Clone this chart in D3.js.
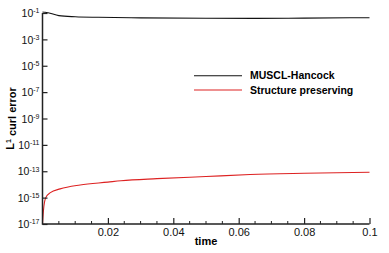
<!DOCTYPE html>
<html>
<head>
<meta charset="utf-8">
<script src="https://cdn.jsdelivr.net/npm/d3@7"></script>
<style>
  body { margin: 0; background: #fff; }
  svg { display: block; font-family: "Liberation Sans", Arial, sans-serif; }
</style>
</head>
<body>
<div class="curl-chart"></div>
<script>
// values
const timeMuscl = [0, 0.0008, 0.0017, 0.005, 0.01, 0.017, 0.03, 0.05, 0.065, 0.08, 0.1];
const errMuscl = [0.12, 0.115, 0.105, 0.063, 0.052, 0.047, 0.043, 0.04, 0.039, 0.041, 0.044];

const timeStruct = [0, 0.0003, 0.001, 0.0024, 0.0054, 0.0115, 0.02, 0.024, 0.035, 0.05, 0.0635, 0.08, 0.1];
const errStruct = [1e-17, 1.1e-16, 1e-15, 2.4e-15, 4.6e-15, 9.1e-15, 1.5e-14, 1.9e-14, 2.75e-14, 4e-14, 5.6e-14, 7e-14, 8.5e-14];

const xTicks = [0.02, 0.04, 0.06, 0.08, 0.1];
const xMinor = d3.range(0.005, 0.1, 0.005);
const yExps = [-1, -3, -5, -7, -9, -11, -13, -15, -17];

const seriesNames = ["MUSCL-Hancock", "Structure preserving"];
const seriesColors = ["#111111", "#dd2222"];

const W = 389, H = 253;
const margin = { top: 13, right: 19.5, bottom: 29, left: 42.5 };

const svg = d3
  .select(".curl-chart")
  .append("svg")
  .attr("width", W)
  .attr("height", H);

const x = d3.scaleLinear().domain([0, 0.1]).range([margin.left, W - margin.right]);
const y = d3.scaleLog().domain([1e-17, 1e-1]).range([H - margin.bottom, margin.top]);

// lines
const line = d3
  .line()
  .x((d) => x(d[0]))
  .y((d) => y(d[1]))
  .curve(d3.curveMonotoneX);

svg
  .append("path")
  .datum(d3.zip(timeMuscl, errMuscl))
  .attr("fill", "none")
  .attr("stroke", seriesColors[0])
  .attr("stroke-width", 1.1)
  .attr("d", line);

svg
  .append("path")
  .datum(d3.zip(timeStruct, errStruct))
  .attr("fill", "none")
  .attr("stroke", seriesColors[1])
  .attr("stroke-width", 1.1)
  .attr("d", line);

// x axis, ticks pointing inward
const xAxis = d3.axisBottom(x).tickValues(xTicks).tickSize(-6).tickPadding(4).tickFormat(d3.format("~g"));
const xGroup = svg
  .append("g")
  .attr("transform", `translate(0, ${H - margin.bottom})`)
  .call(xAxis);
xGroup.select(".domain").remove();
xGroup.selectAll(".tick line").attr("stroke", "#222").attr("stroke-width", 1.2);
xGroup.selectAll(".tick text").attr("font-size", "11px").attr("fill", "#111");

xGroup
  .selectAll(".minor")
  .data(xMinor.filter((v) => !xTicks.some((t) => Math.abs(t - v) < 1e-9)))
  .join("line")
  .attr("class", "minor")
  .attr("x1", (d) => x(d))
  .attr("x2", (d) => x(d))
  .attr("y1", 0)
  .attr("y2", -3)
  .attr("stroke", "#222")
  .attr("stroke-width", 1);

// y axis
const yAxis = d3
  .axisLeft(y)
  .tickValues(yExps.map((e) => Math.pow(10, e)))
  .tickSize(-5)
  .tickFormat("");
const yGroup = svg.append("g").attr("transform", `translate(${margin.left}, 0)`).call(yAxis);
yGroup.select(".domain").remove();
yGroup.selectAll(".tick line").attr("stroke", "#222").attr("stroke-width", 1.2);

yGroup
  .selectAll(".tick")
  .append("text")
  .attr("x", -3)
  .attr("dy", "0.35em")
  .attr("text-anchor", "end")
  .attr("fill", "#111")
  .attr("font-size", "10.5px")
  .each(function (d) {
    const t = d3.select(this);
    t.append("tspan").text("10");
    t.append("tspan")
      .attr("dy", "-0.55em")
      .attr("font-size", "7px")
      .text(String(Math.round(Math.log10(d))));
  });

// axis lines
svg
  .append("path")
  .attr("d", `M${margin.left},${margin.top}V${H - margin.bottom}H${W - margin.right}`)
  .attr("fill", "none")
  .attr("stroke", "#222")
  .attr("stroke-width", 1.5);

// axis labels
svg
  .append("text")
  .attr("x", (x(0) + x(0.1)) / 2)
  .attr("y", H - 8)
  .attr("text-anchor", "middle")
  .attr("font-size", "11px")
  .attr("font-weight", "bold")
  .text("time");

const yl = svg
  .append("text")
  .attr("transform", `translate(14, ${(y(1e-1) + y(1e-17)) / 2}) rotate(-90)`)
  .attr("text-anchor", "middle")
  .attr("font-size", "11px")
  .attr("font-weight", "bold");
yl.append("tspan").text("L");
yl.append("tspan").attr("dy", "-0.5em").attr("font-size", "7px").text("1");
yl.append("tspan").attr("dy", "0.5em").text(" curl error");

// legend
const legend = svg
  .append("g")
  .selectAll("g")
  .data(seriesNames)
  .join("g")
  .attr("transform", (d, i) => `translate(194, ${75.7 + i * 14.3})`);

legend
  .append("line")
  .attr("x1", 0)
  .attr("x2", 48)
  .attr("stroke", (d, i) => seriesColors[i])
  .attr("stroke-width", 1.1);

legend
  .append("text")
  .attr("x", 56)
  .attr("dy", "0.35em")
  .attr("font-size", "10.5px")
  .attr("font-weight", "bold")
  .text((d) => d);
</script>
</body>
</html>
